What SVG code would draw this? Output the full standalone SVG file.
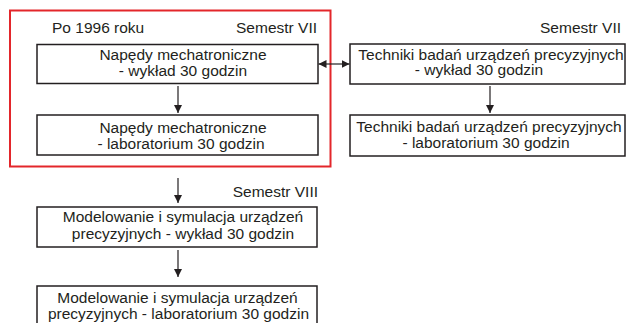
<svg xmlns="http://www.w3.org/2000/svg" width="627" height="323" viewBox="0 0 627 323">
  <style>
    .box { fill: #ffffff; stroke: #231f20; stroke-width: 1.5; }
    .frame { fill: none; stroke: #e3262b; stroke-width: 2; }
    .t { font-family: "Liberation Sans", Arial, sans-serif; font-size: 15.5px; fill: #231f20; }
    .m { text-anchor: middle; }
    .e { text-anchor: end; }
    .c { stroke: #231f20; stroke-width: 1.2; fill: none; }
  </style>
  <defs>
    <marker id="ah" markerUnits="userSpaceOnUse" markerWidth="9" markerHeight="8" refX="8" refY="4" orient="auto-start-reverse">
      <path d="M0,0 L8,4 L0,8 Z" fill="#231f20"/>
    </marker>
  </defs>
  <rect width="627" height="323" fill="#ffffff"/>

  <g id="frame-po1996">
    <rect class="frame" x="10" y="10.5" width="320.5" height="156"/>
    <text class="t" x="52" y="33">Po 1996 roku</text>
    <text class="t e" x="317" y="33">Semestr VII</text>
  </g>

  <g id="label-sem7-right">
    <text class="t e" x="621" y="33">Semestr VII</text>
  </g>

  <g id="label-sem8">
    <text class="t e" x="318" y="196.5">Semestr VIII</text>
  </g>

  <g id="node-naped-wyklad">
    <rect class="box" x="37" y="44.5" width="281" height="39"/>
    <text class="t m" x="183" y="60">Napędy mechatroniczne</text>
    <text class="t m" x="183" y="75.5">- wykład 30 godzin</text>
  </g>

  <g id="node-naped-lab">
    <rect class="box" x="37" y="115" width="281" height="40"/>
    <text class="t m" x="183" y="133">Napędy mechatroniczne</text>
    <text class="t m" x="181" y="149">- laboratorium 30 godzin</text>
  </g>

  <g id="node-techniki-wyklad">
    <rect class="box" x="350" y="44" width="275" height="40"/>
    <text class="t m" x="491" y="59.5">Techniki badań urządzeń precyzyjnych</text>
    <text class="t m" x="479" y="75">- wykład 30 godzin</text>
  </g>

  <g id="node-techniki-lab">
    <rect class="box" x="350" y="115" width="275" height="41"/>
    <text class="t m" x="489" y="131.5">Techniki badań urządzeń precyzyjnych</text>
    <text class="t m" x="486" y="148">- laboratorium 30 godzin</text>
  </g>

  <g id="node-modelowanie-wyklad">
    <rect class="box" x="37" y="207" width="280" height="40"/>
    <text class="t m" x="183" y="221.5">Modelowanie i symulacja urządzeń</text>
    <text class="t m" x="183" y="238.5">precyzyjnych - wykład 30 godzin</text>
  </g>

  <g id="node-modelowanie-lab">
    <rect class="box" x="37" y="286" width="280" height="42"/>
    <text class="t m" x="177.5" y="302.5">Modelowanie i symulacja urządzeń</text>
    <text class="t m" x="178.5" y="319">precyzyjnych - laboratorium 30 godzin</text>
  </g>

  <g id="connectors">
    <line class="c" x1="178" y1="86" x2="178" y2="113" marker-end="url(#ah)"/>
    <line class="c" x1="490" y1="86" x2="490" y2="113" marker-end="url(#ah)"/>
    <line class="c" x1="178" y1="178" x2="178" y2="203" marker-end="url(#ah)"/>
    <line class="c" x1="178" y1="250" x2="178" y2="277" marker-end="url(#ah)"/>
    <line class="c" x1="318.5" y1="64" x2="349.5" y2="64" marker-start="url(#ah)" marker-end="url(#ah)"/>
  </g>
</svg>
